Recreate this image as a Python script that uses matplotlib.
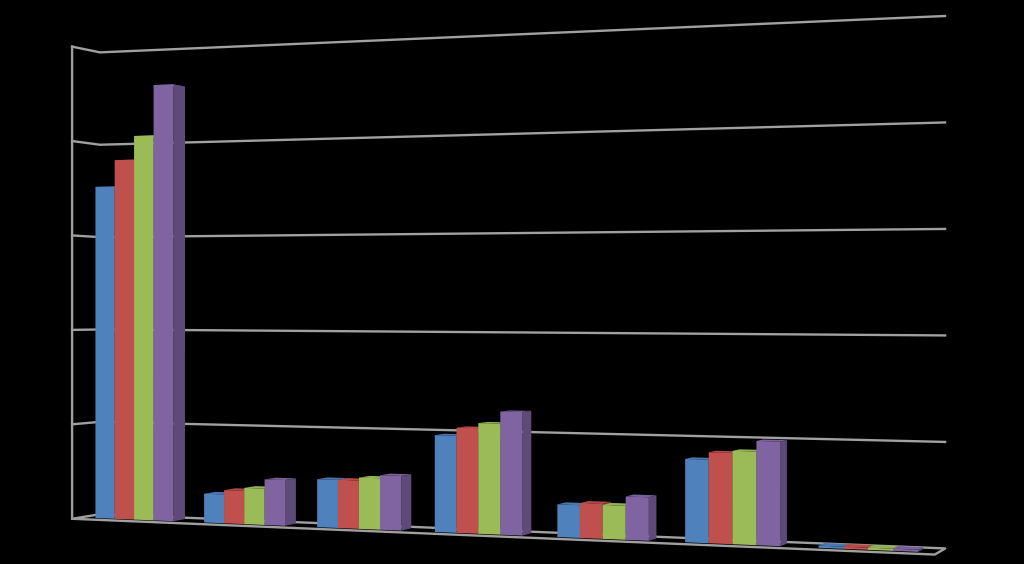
# Perspective 3D clustered columns on a black background
import numpy as np
import matplotlib
matplotlib.use('Agg')
import matplotlib.pyplot as plt

# Values, in gridline units (axis has no labels)
series_a = [3.52, 0.30, 0.49, 0.97, 0.32, 0.80, 0.02]
series_b = [3.80, 0.345, 0.49, 1.05, 0.34, 0.87, 0.02]
series_c = [4.05, 0.375, 0.52, 1.10, 0.33, 0.89, 0.02]
series_d = [4.58, 0.47, 0.55, 1.22, 0.42, 0.99, 0.02]
gridlines = [0, 1, 2, 3, 4, 5]

face_colors = ['#4F81BD', '#C0504D', '#9BBB59', '#8064A2']
side_colors = ['#3A5F8C', '#8E3B39', '#738A42', '#5E4A78']
top_colors = ['#4A78AE', '#B44B48', '#92B054', '#7A5F9A']
grid_color = '#A0A0A0'

n_cats = len(series_a)
bar_width = 0.18
depth_front = 0.3
depth_back = 0.75

# Camera: box corners (category, value, depth) -> where they land in the image
box_points = [(0, 0, 0), (0, 5, 0), (0, 0, 1), (0, 5, 1),
              (7, 0, 1), (7, 5, 1), (7, 0, 0)]
image_points = [(72, 518), (72, 47), (100, 515), (100, 52),
                (945, 548), (945, 16), (935, 555)]

rows = []
for (u, v, w), (x, y) in zip(box_points, image_points):
    rows.append([u, v, w, 1, 0, 0, 0, 0, -x * u, -x * v, -x * w, -x])
    rows.append([0, 0, 0, 0, u, v, w, 1, -y * u, -y * v, -y * w, -y])
camera = np.linalg.svd(np.array(rows, dtype=float))[2][-1].reshape(3, 4)


def project(pts):
    pts = np.column_stack([np.array(pts, dtype=float), np.ones(len(pts))])
    out = pts @ camera.T
    return out[:, :2] / out[:, 2:]


fig = plt.figure(figsize=(10.24, 5.64), dpi=100, facecolor='black')
ax = fig.add_axes([0, 0, 1, 1])
ax.set_xlim(0, 1024)
ax.set_ylim(564, 0)
ax.axis('off')

# walls
for g in gridlines[1:]:
    xy = project([(0, g, 0), (0, g, 1), (7, g, 1)])
    ax.plot(xy[:, 0], xy[:, 1], color=grid_color, lw=1.7, zorder=1)
xy = project([(0, 0, 0), (0, 5, 0)])
ax.plot(xy[:, 0], xy[:, 1], color=grid_color, lw=1.7, zorder=1)
xy = project([(0, 0, 1), (7, 0, 1), (7, 0, 0), (0, 0, 0), (0, 0, 1)])
ax.plot(xy[:, 0], xy[:, 1], color=grid_color, lw=1.7, zorder=1)

# columns
all_series = [series_a, series_b, series_c, series_d]
z = 2
for c in range(n_cats):
    left = c + 0.5 - 2 * bar_width
    for s, values in enumerate(all_series):
        u0 = left + s * bar_width
        u1 = u0 + bar_width
        v = values[c]
        w0, w1 = depth_front, depth_back
        top = project([(u0, v, w0), (u1, v, w0), (u1, v, w1), (u0, v, w1)])
        side = project([(u1, 0, w0), (u1, v, w0), (u1, v, w1), (u1, 0, w1)])
        front = project([(u0, 0, w0), (u0, v, w0), (u1, v, w0), (u1, 0, w0)])
        ax.fill(top[:, 0], top[:, 1], color=top_colors[s], lw=0, zorder=z)
        ax.fill(side[:, 0], side[:, 1], color=side_colors[s], lw=0, zorder=z)
        ax.fill(front[:, 0], front[:, 1], color=face_colors[s], lw=0, zorder=z + 1)
        z += 2

fig.savefig('out.png', dpi=100, facecolor='black')
